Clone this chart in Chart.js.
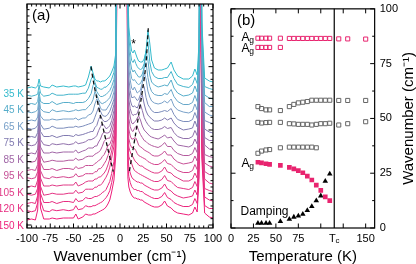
<!DOCTYPE html>
<html><head><meta charset="utf-8">
<script src="https://cdn.jsdelivr.net/npm/chart.js@4.4.0/dist/chart.umd.min.js"></script>
<style>
html,body{margin:0;padding:0;background:#fff;}
#wrap{position:relative;width:416px;height:264px;overflow:hidden;background:#fff;}
#ca{position:absolute;left:0;top:0;}
#cb{position:absolute;left:214px;top:0;}
</style></head><body>
<div id="wrap"><canvas id="ca" width="230" height="264"></canvas><canvas id="cb" width="202" height="264"></canvas></div>
<script>
// ---------------- Panel (a) data: Raman spectra ----------------
const specTemps = [35,40,45,55,65,70,75,80,85,90,95,100,105,110,120,130,150];
const tempLabels = ['35 K','45 K','65 K','75 K','85 K','95 K','105 K','120 K','150 K'];
const labelTrace = [0,2,4,6,8,10,12,14,16];
const xLeft = [-100,-95,-91,-88.5,-87,-85.5,-82,-76,-73,-68,-61,-55,-50,-47.5,-45,-40,-37,-34,-31,-29,-27,-25,-23,-21,-19,-17,-15,-13,-11,-9,-6.5,-4.5,-3];
const xRight = [7.5,8.5,9.5,11,12.5,14,15.5,17,18.5,20,22,24,26,28,30,32,34,37,41,45,48,51,55,58,62,68,74,78,80.5,83,85,86.5,88,91,96,100];
const offsetL = [140,131.8,123.5,115.3,107,98.8,90.5,82.3,74,65.8,57.5,49.3,41,32.8,24.5,16.3,8];
const offsetR = [146,137.5,129,120.5,112,103.5,95,86.5,78,69.5,61,52.5,44,35.5,27,18.5,10];
const profL = [
[0,1,0,2,9,2,1,0,3,1,2,1,2,2,1,2,3,11,22,15,9,7,7,6,7,7,8,10,12,16,22,35,300],
[1,0,1,2,11,3,0,1,3,1,1,2,2,2,2,3,3,8,17,21,14,9,8,7,7,9,9,11,13,17,24,38,300],
[0,1,0,3,13,3,1,1,3,0,2,2,1,2,2,2,3,6,11,19,21,13,10,8,8,9,10,12,14,18,25,40,300],
[1,0,1,3,16,4,1,0,3,1,2,1,2,3,2,3,3,6,9,13,21,18,13,10,9,10,11,13,15,20,27,43,300],
[0,1,0,4,19,5,1,1,2,1,2,2,2,3,1,3,3,6,7,10,17,22,19,13,11,11,11,14,17,21,29,46,300],
[1,0,1,4,21,5,0,1,3,1,1,2,2,3,2,3,4,5,6,7,12,17,22,18,14,13,13,15,18,23,30,48,300],
[0,1,0,5,23,6,1,1,2,0,2,2,1,3,2,3,4,5,6,6,10,12,18,22,18,16,16,17,19,24,33,51,300],
[1,0,1,5,25,6,1,0,2,1,2,1,2,4,2,3,4,6,6,7,8,10,15,19,22,20,17,18,20,25,35,53,300],
[0,1,0,5,27,7,1,1,2,1,2,2,2,4,1,3,4,6,6,6,8,8,12,15,20,22,21,21,22,28,36,57,300],
[1,0,1,6,29,7,0,1,2,1,1,2,2,4,2,3,5,6,6,6,8,9,10,12,16,21,23,24,24,30,39,60,300],
[0,1,0,6,31,8,1,1,2,0,2,2,1,4,2,3,5,5,5,5,7,8,10,11,14,16,20,25,26,31,41,63,300],
[1,0,1,7,33,8,1,0,2,1,2,1,2,5,2,3,5,5,5,5,7,7,10,10,12,15,18,23,28,34,43,66,300],
[0,1,0,7,35,9,1,1,2,1,2,2,2,5,1,3,5,6,6,6,8,8,10,10,12,14,17,22,28,36,47,71,300],
[1,0,1,7,37,9,0,1,2,1,1,2,2,5,2,3,6,6,6,6,8,8,10,10,12,15,18,22,28,37,49,75,300],
[0,1,0,8,40,10,1,1,2,0,2,2,1,5,2,3,6,5,5,6,7,7,8,9,11,12,14,18,22,30,42,68,300],
[1,0,1,9,44,11,1,0,2,1,2,1,2,6,2,3,6,5,5,6,6,7,8,9,10,12,14,17,21,29,41,66,300],
[0,1,0,10,50,12,1,1,2,1,2,2,2,6,1,3,6,5,5,6,6,7,8,9,10,11,13,16,20,28,40,65,300]
];
const profR = [
[300,90,55,40,31,29,32,28,24,21,20,20,23,31,52,39,22,14,12,12,13,14,20,12,6,3,3,6,13,7,40,300,60,4,1,0],
[300,86,53,39,30,28,31,27,24,22,21,22,27,40,49,29,19,14,12,12,13,13,19,12,6,4,3,6,13,7,40,300,60,4,2,1],
[300,83,51,38,30,27,29,26,24,22,22,25,32,48,39,24,17,14,12,13,14,13,19,11,6,3,4,6,13,7,40,300,60,4,1,0],
[300,80,50,37,29,27,28,26,24,23,24,28,39,45,30,21,16,13,12,12,14,13,18,11,6,3,3,5,12,6,40,300,60,5,1,1],
[300,76,48,36,28,26,29,26,23,24,26,33,43,37,25,19,15,13,12,13,15,13,17,10,6,4,3,5,12,6,40,300,60,4,1,0],
[300,72,46,34,27,27,28,26,24,25,30,39,38,27,20,17,14,12,12,13,14,13,16,10,5,3,3,5,12,6,40,300,60,4,2,1],
[300,69,44,33,28,26,27,26,25,28,35,38,29,22,18,16,14,12,12,13,15,13,15,10,6,3,4,5,12,6,40,300,60,4,1,0],
[300,66,42,33,28,26,27,27,28,32,37,31,24,20,17,15,13,12,12,13,15,13,14,9,5,3,3,5,11,6,40,300,60,4,1,1],
[300,62,42,33,27,26,28,29,32,34,30,24,20,18,16,14,13,12,11,13,15,12,13,9,5,4,3,5,11,6,40,300,60,5,1,0],
[300,59,40,32,28,27,30,32,32,28,24,21,18,17,15,14,13,12,11,13,16,12,12,8,5,3,3,5,11,6,40,300,60,4,2,1],
[300,56,38,31,28,28,29,29,26,22,20,19,17,16,15,14,12,11,11,13,16,12,12,8,5,3,4,5,11,6,40,300,60,4,1,0],
[300,53,37,31,28,28,27,25,22,20,19,18,17,16,14,13,12,11,11,13,16,12,11,8,5,3,3,5,11,6,40,300,60,4,1,1],
[300,50,37,32,29,27,24,22,21,19,18,18,16,15,14,13,12,11,11,13,17,12,11,8,6,3,3,5,11,6,40,300,60,5,1,0],
[300,48,36,32,29,25,22,21,20,19,18,17,16,15,14,13,12,11,11,13,17,12,11,8,5,4,3,5,11,6,40,300,60,4,2,1],
[300,46,34,28,24,22,21,20,19,19,18,18,16,15,14,13,12,11,11,13,17,12,10,7,5,3,4,5,11,6,40,300,60,4,1,0],
[300,43,33,27,23,21,20,20,19,19,18,18,16,15,14,13,12,11,11,13,17,12,10,7,5,3,3,5,11,6,40,300,60,4,1,1],
[300,40,31,26,23,21,20,20,19,19,18,18,16,15,14,13,12,11,11,13,17,12,10,7,5,4,3,5,11,6,40,300,60,5,1,0]
];
const dashLx = [-31.2,-28.3,-24.8,-21.1,-17.3,-13.3,-9.7,-7.2];
const dashLy = [161.3,145,129,112.5,96.4,80,66,56.3];
const dashRx = [30.4,27.6,22.6,16.9,10];
const dashRy = [199.7,161.3,128,94.7,56.3];

// ---------------- Panel (b) data: mode frequencies ----------------
const tempsB = [30,34,39,43,55,65,70,75,80,85,90,95,100,105,110,120,130,150];
const agHigh = [86.6,86.6,86.6,86.6,86.6,86.5,86.5,86.5,86.5,86.5,86.5,86.5,86.5,86.5,86.5,86.3,86.3,86.2];
const agLowT = [30,34,39,43,55];
const agLow = [82.4,82.4,82.4,82.4,82.4];
const modeA = [55.4,54.5,53.9,53.9,53.6,55.4,56.4,57.1,57.4,57.7,58.3,58.3,58.3,58.3,58.3,58.2,58.2,58.2];
const modeB = [48.2,47.9,48.1,48.2,48.2,47.6,47.5,47.3,47.3,47.3,47.0,47.3,47.6,47.6,47.8,47.0,47.6,48.5];
const modeCT = [30,34,39,43,55,65,70,75,80,85,90,95];
const modeC = [34.1,35.1,35.6,35.8,36.6,36.9,36.9,36.9,36.9,36.9,36.9,36.6];
const softT = [30,34,39,43,55,65,70,75,80,85,90,95,100,105,110];
const softAg = [30.0,29.7,29.3,29.0,28.6,27.7,27.0,26.2,25.2,23.7,21.9,19.6,17.2,14.2,12.5];
const damping = [2.2,2.2,2.2,2.2,3.0,4.0,5.0,5.5,6.3,8.0,9.8,12.5,14.7,21.4,24.7];
const Tc = 115;
const bXLabels = [0,25,50,75,150];

// ---------------- common ----------------
const FONT = "'Liberation Sans', Arial, Helvetica, sans-serif";
Chart.defaults.font.family = FONT;
Chart.defaults.color = '#000';
const PINK = '#e8246f';
const GRAY = '#666666';

// colour ramp (style): cyan -> lavender -> purple -> magenta -> pink
const rampPos = [0, 0.25, 0.375, 0.5, 0.625, 0.75, 1];
const rampCol = [[52,186,204],[120,160,200],[128,122,176],[160,102,166],[198,80,150],[224,58,134],[238,30,122]];
function traceColor(i){
  const t = i/16;
  let k = 0; while (k < rampPos.length-2 && t > rampPos[k+1]) k++;
  const f = (t-rampPos[k])/(rampPos[k+1]-rampPos[k]);
  const c = rampCol[k].map((v,j)=>Math.round(v+(rampCol[k+1][j]-v)*f));
  return 'rgb('+c.join(',')+')';
}
function pts(xs, ys){ return xs.map((x,k)=>({x:x, y:ys[k]})); }
function tick(ctx,x1,y1,x2,y2){ ctx.beginPath(); ctx.moveTo(x1,y1); ctx.lineTo(x2,y2); ctx.stroke(); }

// ---------------- Panel (a) ----------------
const dsA = [];
dsA.push({data:pts(dashLx,dashLy), borderColor:'#111', borderDash:[4,3], borderWidth:1.3, tension:0.3, pointRadius:0});
dsA.push({data:pts(dashRx,dashRy), borderColor:'#111', borderDash:[4,3], borderWidth:1.3, tension:0.3, pointRadius:0});
for(let i=0;i<specTemps.length;i++){
  dsA.push({data:xLeft.map((x,k)=>({x:x, y:offsetL[i]+profL[i][k]})), borderColor:traceColor(i), borderWidth:1, pointRadius:0, tension:0});
  dsA.push({data:xRight.map((x,k)=>({x:x, y:offsetR[i]+profR[i][k]})), borderColor:traceColor(i), borderWidth:1, pointRadius:0, tension:0});
}

const decoA = {
  id:'decoA',
  afterDatasetsDraw(chart){
    const {ctx, chartArea:a, scales:{x,y}} = chart;
    ctx.save();
    ctx.strokeStyle='#000'; ctx.lineWidth=1.2;
    ctx.strokeRect(a.left, a.top, a.right-a.left, a.bottom-a.top);
    ctx.lineWidth=1;
    for(let v=-100; v<=100; v+=5){
      const px = x.getPixelForValue(v);
      const L = (v%25===0)?4.5:2.5;
      tick(ctx,px,a.bottom,px,a.bottom-L);
      tick(ctx,px,a.top,px,a.top+L);
    }
    const step = 31.67/5;
    for(let k=0; 3+k*step<=224; k++){
      const py = y.getPixelForValue(3+k*step);
      if(py < a.top) continue;
      const L = (k%5===0)?4.5:2.5;
      tick(ctx,a.left,py,a.left+L,py);
      tick(ctx,a.right,py,a.right-L,py);
    }
    // texts
    ctx.fillStyle='#000';
    ctx.font='15px '+FONT; ctx.textAlign='left'; ctx.textBaseline='middle';
    ctx.fillText('(a)', a.left+5, a.top+12);
    ctx.font='12px '+FONT; ctx.textAlign='center'; ctx.textBaseline='alphabetic';
    ctx.fillText('*', x.getPixelForValue(14.5), 48);
    ctx.font='10px '+FONT; ctx.textAlign='right'; ctx.textBaseline='middle';
    tempLabels.forEach((t,k)=>{
      const i = labelTrace[k];
      ctx.fillStyle = traceColor(i);
      ctx.fillText(t, a.left-3, y.getPixelForValue(offsetL[i]-6));
    });
    ctx.restore();
  }
};

new Chart(document.getElementById('ca'), {
  type:'line',
  data:{datasets:dsA},
  options:{
    responsive:false, animation:false, events:[],
    layout:{padding:{left:27,right:17,top:4,bottom:0}},
    plugins:{legend:{display:false}, tooltip:{enabled:false}},
    scales:{
      x:{type:'linear', min:-100, max:100, grid:{display:false, drawTicks:false}, border:{display:false},
         ticks:{stepSize:25, autoSkip:false, maxRotation:0, padding:5, color:'#000', font:{size:11, lineHeight:1.0}},
         title:{display:true, text:'Wavenumber (cm⁻¹)', color:'#000', font:{size:15, lineHeight:1.0}, padding:{top:0,bottom:0}}},
      y:{type:'linear', min:0, max:224, display:false}
    }
  },
  plugins:[decoA]
});

// ---------------- Panel (b) ----------------
const openSq = (col)=>({pointStyle:'rect', pointRadius:2.9, borderWidth:1, borderColor:col, backgroundColor:'rgba(0,0,0,0)'});
const dsB = [
  Object.assign({data:pts(tempsB,agHigh)}, openSq(PINK)),
  Object.assign({data:pts(agLowT,agLow)}, openSq(PINK)),
  Object.assign({data:pts(tempsB,modeA)}, openSq(GRAY)),
  Object.assign({data:pts(tempsB,modeB)}, openSq(GRAY)),
  Object.assign({data:pts(modeCT,modeC)}, openSq(GRAY)),
  {data:pts(softT,softAg), pointStyle:'rect', pointRadius:3.3, borderWidth:0, borderColor:PINK, backgroundColor:PINK},
  {data:pts(softT,damping), pointStyle:'triangle', pointRadius:3.2, borderWidth:0, borderColor:'#000', backgroundColor:'#000'}
];

const decoB = {
  id:'decoB',
  afterDatasetsDraw(chart){
    const {ctx, chartArea:a, scales:{x,y}} = chart;
    ctx.save();
    ctx.strokeStyle='#000'; ctx.lineWidth=1.2;
    const xt = x.getPixelForValue(Tc);
    tick(ctx,xt,a.top,xt,a.bottom);
    ctx.strokeRect(a.left, a.top, a.right-a.left, a.bottom-a.top);
    ctx.lineWidth=1;
    for(let v=0; v<=150; v+=25){
      const px = x.getPixelForValue(v);
      tick(ctx,px,a.bottom,px,a.bottom-4.5);
      tick(ctx,px,a.top,px,a.top+4.5);
    }
    for(let k=0; k<=8; k++){
      const py = y.getPixelForValue(k*12.5);
      const L = (k%2===0)?4.5:2.5;
      tick(ctx,a.left,py,a.left+L,py);
      tick(ctx,a.right,py,a.right-L,py);
    }
    ctx.fillStyle='#000';
    // Tc tick label
    ctx.textBaseline='top'; ctx.textAlign='left';
    ctx.font='11px '+FONT;
    const tw = ctx.measureText('T').width;
    ctx.fillText('T', xt-tw/2-2, a.bottom+5);
    ctx.font='8px '+FONT;
    ctx.fillText('c', xt+tw/2-2, a.bottom+9);
    // panel label
    ctx.font='15px '+FONT; ctx.textBaseline='middle';
    ctx.fillText('(b)', a.left+6, a.top+12);
    // mode labels
    function ag(py){
      ctx.textBaseline='alphabetic';
      ctx.font='12px '+FONT; ctx.fillText('A', a.left+10.5, py+4.3);
      ctx.font='8.5px '+FONT; ctx.fillText('g', a.left+18.3, py+6.5);
    }
    ag(y.getPixelForValue(agHigh[0])-1.5);
    ag(y.getPixelForValue(agLow[0]));
    ag(y.getPixelForValue(softAg[0]));
    ctx.font='12px '+FONT; ctx.textBaseline='alphabetic';
    ctx.fillText('Damping', a.left+9.5, y.getPixelForValue(5.9));
    // right axis title
    ctx.save();
    ctx.translate(195, (a.top+a.bottom)/2);
    ctx.rotate(-Math.PI/2);
    ctx.font='15px '+FONT; ctx.textAlign='center'; ctx.textBaseline='middle';
    ctx.fillText('Wavenumber (cm⁻¹)', 0, 0);
    ctx.restore();
    ctx.restore();
  }
};

new Chart(document.getElementById('cb'), {
  type:'scatter',
  data:{datasets:dsB},
  options:{
    responsive:false, animation:false, events:[],
    layout:{padding:{left:17,right:13,top:4,bottom:0}},
    plugins:{legend:{display:false}, tooltip:{enabled:false}},
    scales:{
      x:{type:'linear', min:0, max:160, grid:{display:false, drawTicks:false}, border:{display:false},
         ticks:{stepSize:25, includeBounds:false, autoSkip:false, maxRotation:0, padding:5, color:'#000', font:{size:11, lineHeight:1.0},
                callback:(v)=> bXLabels.includes(v) ? String(v) : ''},
         title:{display:true, text:'Temperature (K)', color:'#000', font:{size:15, lineHeight:1.0}, padding:{top:0,bottom:0}}},
      y:{type:'linear', position:'right', min:0, max:100, grid:{display:false, drawTicks:false}, border:{display:false},
         ticks:{stepSize:25, padding:5, color:'#000', font:{size:11, lineHeight:0.7}}}
    }
  },
  plugins:[decoB]
});
</script>
</body></html>
